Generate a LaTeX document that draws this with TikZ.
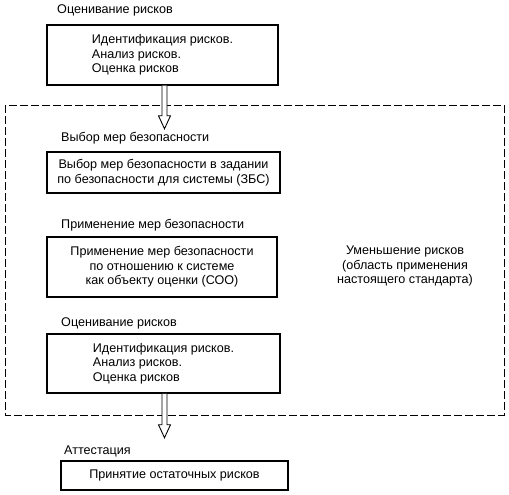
\documentclass[tikz,border=0pt]{standalone}
\usepackage{fontspec}
\setmainfont{Liberation Sans}
\usetikzlibrary{calc}
\begin{document}
\begin{tikzpicture}[x=1pt,y=-1pt,
  txt/.style={font=\fontsize{12.6}{14.5}\selectfont, inner sep=0pt},
  box/.style={draw, line width=1.5pt, txt},
  title/.style={txt, anchor=west},
  region/.style={draw, line width=0.9pt, dash pattern=on 8pt off 3pt},
  hollow/.style={draw, line width=0.9pt, fill=white}]
\useasboundingbox (0,0) rectangle (509,495);
\node[title] (t1) at (57,10) {Оценивание рисков};
\node[box, minimum width=231, minimum height=60, align=left] (b1) at (162.5,55)
  {Идентификация рисков.\\Анализ рисков.\\Оценка рисков};
\draw[region] (5,105) rectangle (504,415);
\node[title] (t2) at (61,138) {Выбор мер безопасности};
\node[box, minimum width=233, minimum height=41, align=center] (b2) at (163.5,172.5)
  {Выбор мер безопасности в задании\\по безопасности для системы (ЗБС)};
\node[title] (t3) at (61,225) {Применение мер безопасности};
\node[box, minimum width=230, minimum height=60, align=center] (b3) at (162,267)
  {Применение мер безопасности\\по отношению к системе\\как объекту оценки (СОО)};
\node[txt, align=center] (rr) at (405,266)
  {Уменьшение рисков\\(область применения\\настоящего стандарта)};
\node[title] (t4) at (61,323) {Оценивание рисков};
\node[box, minimum width=233, minimum height=59, align=left] (b4) at (163.5,363.5)
  {Идентификация рисков.\\Анализ рисков.\\Оценка рисков};
\node[title] (t5) at (64,451) {Аттестация};
\node[box, minimum width=227, minimum height=29] (b5) at (174.5,475.5)
  {Принятие остаточных рисков};
% hollow arrows
\coordinate (a1s) at ($(b1.south)+(2,0)$);
\coordinate (a1e) at ($(a1s)+(0,43)$);
\draw[hollow] ($(a1s)+(-2.5,0)$) -- ($(a1e)+(-2.5,-13)$) -- ($(a1e)+(-6,-13)$) -- (a1e)
  -- ($(a1e)+(6,-13)$) -- ($(a1e)+(2.5,-13)$) -- ($(a1s)+(2.5,0)$);
\coordinate (a2s) at ($(b4.south)+(1,0)$);
\coordinate (a2e) at ($(a2s)+(0,44)$);
\draw[hollow] ($(a2s)+(-2.5,0)$) -- ($(a2e)+(-2.5,-13)$) -- ($(a2e)+(-6,-13)$) -- (a2e)
  -- ($(a2e)+(6,-13)$) -- ($(a2e)+(2.5,-13)$) -- ($(a2s)+(2.5,0)$);
\end{tikzpicture}
\end{document}
